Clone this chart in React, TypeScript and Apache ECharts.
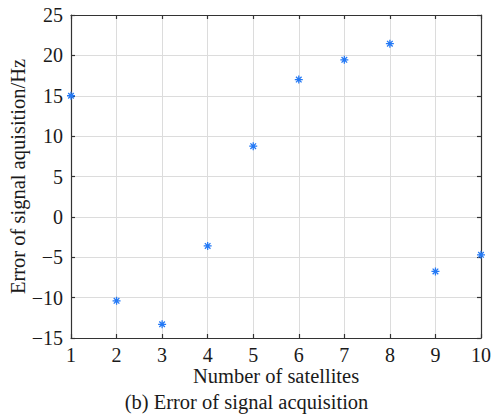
import React, { useEffect, useRef } from "react";
import * as echarts from "echarts";

const satellites = [1, 2, 3, 4, 5, 6, 7, 8, 9, 10];
const errorHz = [15.0, -10.4, -13.3, -3.6, 8.75, 17.0, 19.45, 21.45, -6.75, -4.7];
const xTicks = [1, 2, 3, 4, 5, 6, 7, 8, 9, 10];
const yTicks = [-15, -10, -5, 0, 5, 10, 15, 20, 25];

const ASTERISK =
  "path://M4.2,0L5.8,0L5.8,10L4.2,10Z" +
  "M0,4.2L10,4.2L10,5.8L0,5.8Z" +
  "M2.07,0.93L9.07,7.93L7.93,9.07L0.93,2.07Z" +
  "M9.07,2.07L2.07,9.07L0.93,7.93L7.93,0.93Z";

const FONT = "'Liberation Serif', 'Times New Roman', serif";
const TXT = "#1a1a1a";
const fmt = (v: number) => String(v).replace("-", "\u2212");

export default function App() {
  const ref = useRef<HTMLDivElement>(null);
  useEffect(() => {
    if (!ref.current) return;
    const chart = echarts.init(ref.current, undefined, { renderer: "svg" });
    const axisLine = { show: true, onZero: false, lineStyle: { color: "#333", width: 1.2 } };
    const tick = { show: true, inside: true, length: 4, lineStyle: { color: "#333", width: 1.2 } };
    const split = { show: true, lineStyle: { color: "#dcdcdc", width: 1 } };
    chart.setOption({
      animation: false,
      backgroundColor: "#fff",
      grid: {
        left: 71,
        right: 12,
        top: 15,
        bottom: 79,
        containLabel: false,
        outerBoundsMode: "none",
      },
      xAxis: [
        {
          type: "value",
          min: xTicks[0],
          max: xTicks[xTicks.length - 1],
          interval: 1,
          position: "bottom",
          axisLine,
          axisTick: tick,
          splitLine: split,
          axisLabel: { color: TXT, fontFamily: FONT, fontSize: 20, margin: 7, formatter: fmt },
          name: "Number of satellites",
          nameLocation: "middle",
          nameGap: 28,
          nameMoveOverlap: false,
          nameTextStyle: { color: TXT, fontFamily: FONT, fontSize: 20.5, lineHeight: 20 },
        },
        {
          type: "value",
          min: xTicks[0],
          max: xTicks[xTicks.length - 1],
          interval: 1,
          position: "top",
          axisLine,
          axisTick: tick,
          splitLine: { show: false },
          axisLabel: { show: false },
        },
      ],
      yAxis: [
        {
          type: "value",
          min: yTicks[0],
          max: yTicks[yTicks.length - 1],
          interval: 5,
          position: "left",
          axisLine,
          axisTick: tick,
          splitLine: split,
          axisLabel: { color: TXT, fontFamily: FONT, fontSize: 20, margin: 8, formatter: fmt },
          name: "Error of signal aquisition/Hz",
          nameLocation: "middle",
          nameGap: 43,
          nameMoveOverlap: false,
          nameTextStyle: { color: TXT, fontFamily: FONT, fontSize: 20.5, lineHeight: 20 },
        },
        {
          type: "value",
          min: yTicks[0],
          max: yTicks[yTicks.length - 1],
          interval: 5,
          position: "right",
          axisLine,
          axisTick: tick,
          splitLine: { show: false },
          axisLabel: { show: false },
        },
      ],
      graphic: [
        {
          type: "text",
          left: "center",
          top: 391,
          style: {
            text: "(b) Error of signal acquisition",
            fill: TXT,
            fontFamily: FONT,
            fontSize: 20.5,
            lineHeight: 20,
          },
        },
      ],
      series: [
        {
          type: "scatter",
          xAxisIndex: 0,
          yAxisIndex: 0,
          data: satellites.map((s, i) => [s, errorHz[i]]),
          symbol: ASTERISK,
          symbolSize: 8,
          itemStyle: { color: "#2479f5", opacity: 1 },
          clip: false,
          z: 5,
        },
      ],
    });
    return () => chart.dispose();
  }, []);
  return (
    <div
      ref={ref}
      style={{ position: "fixed", left: 0, top: 0, width: 493, height: 417, background: "#fff" }}
    />
  );
}
